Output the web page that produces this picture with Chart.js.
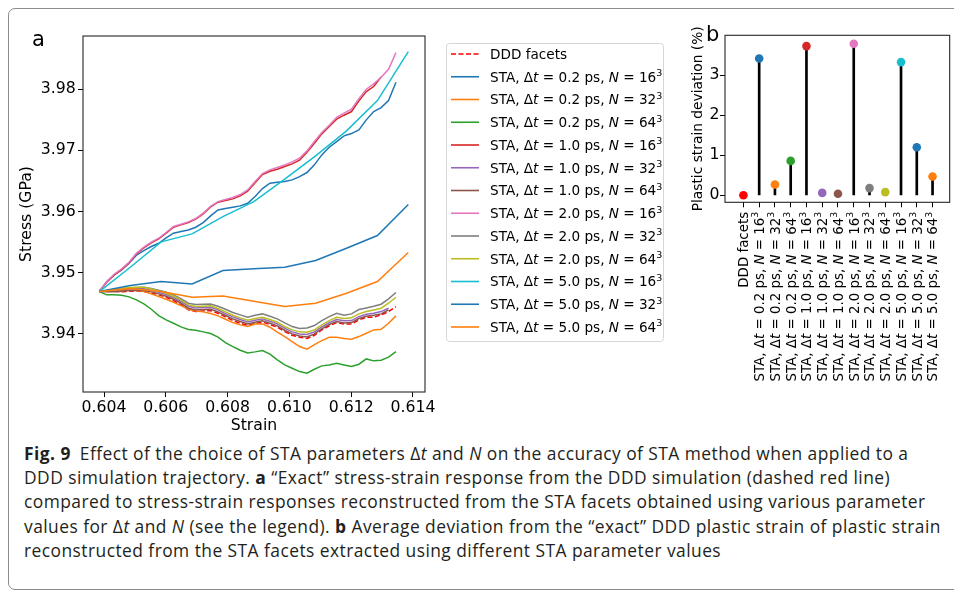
<!DOCTYPE html>
<html>
<head>
<meta charset="utf-8">
<script src="https://cdn.jsdelivr.net/npm/chart.js@4.4.0/dist/chart.umd.min.js"></script>
<style>
  html, body { margin: 0; padding: 0; background: #fff; }
  body { width: 954px; height: 591px; position: relative; overflow: hidden; }
  .frame { position: absolute; left: 8px; top: 8px; width: 1000px; height: 582px; box-sizing: border-box;
           border: 1px solid #8c8c8c; border-radius: 7px; }
  #chartA { position: absolute; left: 0; top: 0; }
  #chartB { position: absolute; left: 670px; top: 0; }
  .caption { position: absolute; left: 24px; top: 441px; font-family: "Open Sans", sans-serif; font-size: 17.4px;
             letter-spacing: 0.45px; line-height: 24.2px; color: #231f20; white-space: nowrap; }
  .caption b { font-weight: 700; }
  .caption .fig { margin-right: 4px; }
</style>
</head>
<body>
<div class="frame"></div>
<canvas id="chartA" width="670" height="440"></canvas>
<canvas id="chartB" width="284" height="400"></canvas>
<div class="caption">
  <div><b class="fig">Fig. 9</b> Effect of the choice of STA parameters Δ<i>t</i> and <i>N</i> on the accuracy of STA method when applied to a</div>
  <div>DDD simulation trajectory. <b>a</b> “Exact” stress-strain response from the DDD simulation (dashed red line)</div>
  <div>compared to stress-strain responses reconstructed from the STA facets obtained using various parameter</div>
  <div>values for Δ<i>t</i> and <i>N</i> (see the legend). <b>b</b> Average deviation from the “exact” DDD plastic strain of plastic strain</div>
  <div>reconstructed from the STA facets extracted using different STA parameter values</div>
</div>
<script>
// strain samples of the reconstructed responses (fine: dt <= 2 ps, coarse: dt = 5 ps)
const strainFine = [
  0.60385, 0.60409, 0.60433, 0.60457, 0.60481, 0.60505, 0.60529, 0.60553, 0.60577, 0.60601,
  0.60625, 0.60649, 0.60673, 0.60697, 0.60721, 0.60745, 0.60769, 0.60793, 0.60817, 0.60841,
  0.60865, 0.60889, 0.60913, 0.60937, 0.60961, 0.60985, 0.61009, 0.61033, 0.61057, 0.61081,
  0.61105, 0.61129, 0.61153, 0.61177, 0.61201, 0.61225, 0.61249, 0.61273, 0.61297, 0.61321,
  0.61345
];
const strainCoarse = [0.60385, 0.60485, 0.60585, 0.60685, 0.60785, 0.60885, 0.60985, 0.61085, 0.61185, 0.61285, 0.61385];

// stress (GPa)
const stressDDD = [
  3.9472, 3.94692, 3.94698, 3.94687, 3.94698, 3.94703, 3.94692, 3.9467, 3.94638, 3.94599,
  3.94545, 3.9448, 3.94392, 3.94365, 3.94376, 3.94381, 3.94338, 3.94278, 3.94218, 3.94174,
  3.94142, 3.94169, 3.94191, 3.94153, 3.94109, 3.94038, 3.93978, 3.93946, 3.93924, 3.93978,
  3.94065, 3.94131, 3.94185, 3.94163, 3.94163, 3.94229, 3.94272, 3.94272, 3.94311, 3.94365,
  3.94447
];
const stressDt02N16 = [
  3.94692, 3.94856, 3.94965, 3.95046, 3.95155, 3.95286, 3.95362, 3.95428, 3.95482, 3.95569,
  3.95646, 3.95673, 3.957, 3.95744, 3.9582, 3.95929, 3.96027, 3.96049, 3.96071, 3.96093,
  3.96136, 3.96245, 3.96376, 3.96463, 3.9648, 3.9649, 3.96518, 3.96572, 3.96638, 3.96763,
  3.96926, 3.97052, 3.97144, 3.97237, 3.97275, 3.97335, 3.97499, 3.97635, 3.977, 3.97815,
  3.98114
];
const stressDt02N32 = [
  3.94692, 3.94698, 3.94703, 3.94714, 3.94719, 3.94708, 3.94692, 3.94654, 3.9461, 3.94567,
  3.94518, 3.94463, 3.94403, 3.94376, 3.9436, 3.94332, 3.94294, 3.9424, 3.94185, 3.94147,
  3.9412, 3.94163, 3.94163, 3.94109, 3.94027, 3.93956, 3.93875, 3.93793, 3.93749, 3.93826,
  3.93891, 3.93946, 3.93946, 3.93924, 3.93913, 3.93956, 3.94011, 3.94065, 3.94076, 3.94174,
  3.94294
];
const stressDt02N64 = [
  3.94692, 3.94638, 3.94638, 3.94632, 3.94605, 3.94556, 3.9449, 3.94403, 3.943, 3.94229,
  3.94174, 3.94114, 3.94071, 3.9406, 3.94033, 3.94005, 3.93946, 3.93858, 3.93793, 3.93733,
  3.93689, 3.93706, 3.93728, 3.93668, 3.93575, 3.93493, 3.93439, 3.93384, 3.93357, 3.93422,
  3.93477, 3.93493, 3.9352, 3.93493, 3.93466, 3.93504, 3.93591, 3.93559, 3.93569, 3.93619,
  3.93711
];
const stressDt10N16 = [
  3.94692, 3.94845, 3.94965, 3.95052, 3.95161, 3.95308, 3.95406, 3.95488, 3.95553, 3.95646,
  3.95744, 3.95782, 3.9582, 3.95875, 3.95962, 3.96076, 3.96153, 3.9618, 3.96207, 3.96256,
  3.96332, 3.96469, 3.96605, 3.96659, 3.96692, 3.96736, 3.96779, 3.96839, 3.9697, 3.97117,
  3.9727, 3.9739, 3.9751, 3.97575, 3.97635, 3.97809, 3.97962, 3.98044, 3.982
];
const stressDt10N32 = [
  3.94692, 3.94703, 3.94714, 3.94725, 3.94736, 3.94741, 3.94736, 3.94714, 3.94681, 3.94643,
  3.94594, 3.94534, 3.94452, 3.94425, 3.94431, 3.94436, 3.94392, 3.94332, 3.94278, 3.94234,
  3.94196, 3.94223, 3.94245, 3.94207, 3.94163, 3.94093, 3.94033, 3.94, 3.93989, 3.94033,
  3.94114, 3.94185, 3.94234, 3.94213, 3.94218, 3.94283, 3.94322, 3.94338, 3.94365, 3.9442
];
const stressDt10N64 = [
  3.94692, 3.94687, 3.94687, 3.94698, 3.94708, 3.94714, 3.94708, 3.94687, 3.94654, 3.94616,
  3.94567, 3.94501, 3.9442, 3.94392, 3.94398, 3.94403, 3.9436, 3.943, 3.94245, 3.94202,
  3.94163, 3.94191, 3.94213, 3.94174, 3.94131, 3.9406, 3.94, 3.93967, 3.93951, 3.94,
  3.94082, 3.94153, 3.94202, 3.9418, 3.94185, 3.94251, 3.94289, 3.94305, 3.94327, 3.94392
];
const stressDt20N16 = [
  3.94692, 3.94856, 3.94975, 3.95063, 3.95172, 3.95319, 3.95417, 3.95499, 3.95564, 3.95657,
  3.95755, 3.95793, 3.95831, 3.95886, 3.95973, 3.96087, 3.96163, 3.96196, 3.96229, 3.96278,
  3.96354, 3.9649, 3.96621, 3.96681, 3.96719, 3.96763, 3.96812, 3.96872, 3.96992, 3.97144,
  3.97292, 3.97411, 3.97542, 3.97608, 3.97673, 3.97847, 3.98, 3.98087, 3.98196, 3.98327,
  3.98599
];
const stressDt20N32 = [
  3.94692, 3.94708, 3.94725, 3.94736, 3.94747, 3.94757, 3.94763, 3.94741, 3.94714, 3.94681,
  3.94638, 3.94578, 3.94501, 3.9448, 3.94485, 3.9449, 3.94452, 3.94403, 3.94349, 3.94311,
  3.94272, 3.94305, 3.94327, 3.94289, 3.94245, 3.9418, 3.9412, 3.94087, 3.94098, 3.94136,
  3.94218, 3.94283, 3.94338, 3.94305, 3.94327, 3.94398, 3.94425, 3.94452, 3.94485, 3.94572,
  3.94676
];
const stressDt20N64 = [
  3.94692, 3.94708, 3.94725, 3.94741, 3.94757, 3.94763, 3.94763, 3.94736, 3.94703, 3.94665,
  3.94616, 3.94556, 3.94474, 3.94447, 3.94452, 3.94458, 3.94414, 3.9436, 3.94305, 3.94262,
  3.94223, 3.94251, 3.94272, 3.94234, 3.94191, 3.9412, 3.94065, 3.94033, 3.94027, 3.94065,
  3.94147, 3.94218, 3.94272, 3.94251, 3.94262, 3.94327, 3.94365, 3.94392, 3.9442, 3.94501,
  3.94599
];
const stressDt50N16 = [3.94692, 3.9509, 3.95504, 3.95635, 3.95918, 3.96163, 3.96529, 3.9691, 3.97319, 3.97815, 3.98616];
const stressDt50N32 = [3.94692, 3.9479, 3.94856, 3.94817, 3.95035, 3.95063, 3.9509, 3.95199, 3.95401, 3.95608, 3.96114];
const stressDt50N64 = [3.94692, 3.94741, 3.94692, 3.94599, 3.94621, 3.94534, 3.94447, 3.94501, 3.94665, 3.94856, 3.9533];

// STA parameters, one curve / stem per combination
const timeSteps = ['0.2', '1.0', '2.0', '5.0'];
const gridSizes = ['16', '32', '64'];

// average plastic strain deviation (%) : DDD facets, then the STA runs in the same order
const deviation = [0, 3.42, 0.27, 0.86, 3.73, 0.06, 0.04, 3.79, 0.18, 0.08, 3.33, 1.20, 0.47];

const strainTicks = [0.604, 0.606, 0.608, 0.610, 0.612, 0.614];
const stressTicks = [3.94, 3.95, 3.96, 3.97, 3.98];
const deviationTicks = [0, 1, 2, 3];

const seriesColors = ['#ff0000', '#1f77b4', '#ff7f0e', '#2ca02c', '#d62728', '#9467bd', '#8c564b',
                      '#e377c2', '#7f7f7f', '#bcbd22', '#17becf', '#1f77b4', '#ff7f0e'];
const seriesStress = [stressDDD, stressDt02N16, stressDt02N32, stressDt02N64, stressDt10N16, stressDt10N32,
                      stressDt10N64, stressDt20N16, stressDt20N32, stressDt20N64, stressDt50N16, stressDt50N32,
                      stressDt50N64];

const FONT = '"DejaVu Sans", sans-serif';

// label pieces: plain, italic (math variable) and superscript runs
function staRuns(dt, n) {
  return [
    {text: 'STA, Δ'}, {text: 't', italic: true}, {text: ' = ' + dt + ' ps, '},
    {text: 'N', italic: true}, {text: ' = ' + n}, {text: '3', sup: true}
  ];
}
const seriesRuns = [[{text: 'DDD facets'}]];
timeSteps.forEach(dt => gridSizes.forEach(n => seriesRuns.push(staRuns(dt, n))));

function runFont(run, size) {
  const s = run.sup ? size * 0.7 : size;
  return (run.italic ? 'italic ' : '') + s + 'px ' + FONT;
}
function runsWidth(ctx, runs, size) {
  let w = 0;
  runs.forEach(r => { ctx.font = runFont(r, size); w += ctx.measureText(r.text).width; });
  return w;
}
// x, y: start of the text, y at the alphabetic baseline
function drawRuns(ctx, runs, x, y, size) {
  ctx.textAlign = 'left';
  ctx.textBaseline = 'alphabetic';
  runs.forEach(r => {
    ctx.font = runFont(r, size);
    ctx.fillText(r.text, x, r.sup ? y - size * 0.42 : y);
    x += ctx.measureText(r.text).width;
  });
}

// matplotlib-like closed frame around the plotting area
const framePlugin = {
  id: 'frame',
  afterDatasetsDraw(chart) {
    const {ctx, chartArea: a} = chart;
    ctx.save();
    ctx.strokeStyle = '#262626';
    ctx.lineWidth = 1.1;
    ctx.strokeRect(a.left, a.top, a.right - a.left, a.bottom - a.top);
    ctx.restore();
  }
};

function panelLetter(letter, x, y) {
  return {
    id: 'letter' + letter,
    afterDraw(chart) {
      const ctx = chart.ctx;
      ctx.save();
      ctx.fillStyle = '#000';
      ctx.font = '21px ' + FONT;
      ctx.textAlign = 'left';
      ctx.textBaseline = 'alphabetic';
      ctx.fillText(letter, x, y);
      ctx.restore();
    }
  };
}

// legend of panel a, drawn as a boxed list with rich labels
const legendA = {
  id: 'legendA',
  afterDraw(chart) {
    const ctx = chart.ctx;
    const box = {left: 446, top: 43, right: 663, bottom: 341};
    const size = 13.6;
    ctx.save();
    ctx.beginPath();
    ctx.roundRect(box.left + 0.5, box.top + 0.5, box.right - box.left, box.bottom - box.top, 3);
    ctx.fillStyle = '#fff';
    ctx.fill();
    ctx.strokeStyle = '#d6d6d6';
    ctx.lineWidth = 1;
    ctx.stroke();
    chart.data.datasets.forEach((ds, i) => {
      const y = 54 + 22.75 * i;
      ctx.beginPath();
      ctx.setLineDash(ds.borderDash || []);
      ctx.strokeStyle = ds.borderColor;
      ctx.lineWidth = 1.6;
      ctx.moveTo(451, y);
      ctx.lineTo(479, y);
      ctx.stroke();
      ctx.setLineDash([]);
      ctx.fillStyle = '#000';
      drawRuns(ctx, seriesRuns[i], 490, y + size * 0.365, size);
    });
    ctx.restore();
  }
};

const datasetsA = seriesStress.map((stress, i) => {
  const strain = i >= 10 ? strainCoarse : strainFine;
  return {
    data: stress.map((s, k) => ({x: strain[k], y: s})),
    borderColor: seriesColors[i],
    borderWidth: 1.5,
    borderDash: i === 0 ? [5, 2.5] : undefined,
    pointRadius: 0,
    tension: 0,
    fill: false,
    order: -i
  };
});

const tickFont = {family: FONT, size: 15.7};

new Chart(document.getElementById('chartA'), {
  type: 'line',
  data: {datasets: datasetsA},
  options: {
    responsive: false,
    animation: false,
    events: [],
    layout: {padding: {left: 0, top: 36, right: 245, bottom: 0}},
    plugins: {legend: {display: false}, tooltip: {enabled: false}},
    scales: {
      x: {
        type: 'linear',
        min: 0.60332,
        max: 0.61439,
        afterBuildTicks: s => { s.ticks = strainTicks.map(v => ({value: v})); },
        afterFit: s => { s.height = 48; },
        ticks: {callback: v => v.toFixed(3), font: tickFont, color: '#000', padding: 1.4, maxRotation: 0, autoSkip: false},
        grid: {drawOnChartArea: false, tickLength: 5, color: '#000', lineWidth: 1},
        border: {display: false},
        title: {display: true, text: 'Strain', font: tickFont, color: '#000', padding: {top: 0, bottom: 4.4}}
      },
      y: {
        type: 'linear',
        min: 3.9305,
        max: 3.9887,
        afterBuildTicks: s => { s.ticks = stressTicks.map(v => ({value: v})); },
        afterFit: s => { s.width = 83; },
        ticks: {callback: v => v.toFixed(2), font: tickFont, color: '#000', padding: 2.2},
        grid: {drawOnChartArea: false, tickLength: 5, color: '#000', lineWidth: 1},
        border: {display: false},
        title: {display: true, text: 'Stress (GPa)', font: tickFont, color: '#000', padding: {top: 17.3, bottom: 0}}
      }
    }
  },
  plugins: [framePlugin, legendA, panelLetter('a', 32, 46)]
});

// rotated category labels under the stems of panel b
const stemLabels = {
  id: 'stemLabels',
  afterDraw(chart) {
    const ctx = chart.ctx;
    const xs = chart.scales.x;
    const size = 13.4;
    const yEnd = chart.chartArea.bottom + 9.5;
    ctx.save();
    ctx.fillStyle = '#000';
    seriesRuns.forEach((runs, i) => {
      const w = runsWidth(ctx, runs, size);
      ctx.save();
      ctx.translate(xs.getPixelForValue(i), yEnd);
      ctx.rotate(-Math.PI / 2);
      drawRuns(ctx, runs, -w, size * 0.365, size);
      ctx.restore();
    });
    ctx.restore();
  }
};

const stemPoints = deviation.map((v, i) => ({x: i, y: v}));

new Chart(document.getElementById('chartB'), {
  data: {
    datasets: [
      {
        type: 'line',
        data: stemPoints,
        showLine: false,
        pointRadius: 4.3,
        pointBackgroundColor: seriesColors,
        pointBorderWidth: 0,
        order: 0
      },
      {
        type: 'bar',
        data: stemPoints,
        backgroundColor: '#000',
        barThickness: 2,
        order: 1
      }
    ]
  },
  options: {
    responsive: false,
    animation: false,
    events: [],
    layout: {padding: {left: 0, top: 35.3, right: 1.7, bottom: 0}},
    plugins: {legend: {display: false}, tooltip: {enabled: false}},
    scales: {
      x: {
        type: 'linear',
        min: -0.62,
        max: 12.54,
        afterBuildTicks: s => { s.ticks = deviation.map((v, i) => ({value: i})); },
        afterFit: s => { s.height = 197.7; },
        ticks: {callback: () => '', autoSkip: false},
        grid: {drawOnChartArea: false, tickLength: 5, color: '#000', lineWidth: 1, offset: false},
        border: {display: false}
      },
      y: {
        type: 'linear',
        min: -0.175,
        max: 4.0,
        afterBuildTicks: s => { s.ticks = deviationTicks.map(v => ({value: v})); },
        afterFit: s => { s.width = 55; },
        ticks: {callback: v => String(v), font: tickFont, color: '#000', padding: 0.5},
        grid: {drawOnChartArea: false, tickLength: 5, color: '#000', lineWidth: 1},
        border: {display: false},
        title: {display: true, text: 'Plastic strain deviation (%)', font: {family: FONT, size: 13.8}, color: '#000',
                padding: {top: 20.5, bottom: 0}}
      }
    }
  },
  plugins: [framePlugin, stemLabels, panelLetter('b', 36, 41)]
});
</script>
</body>
</html>
